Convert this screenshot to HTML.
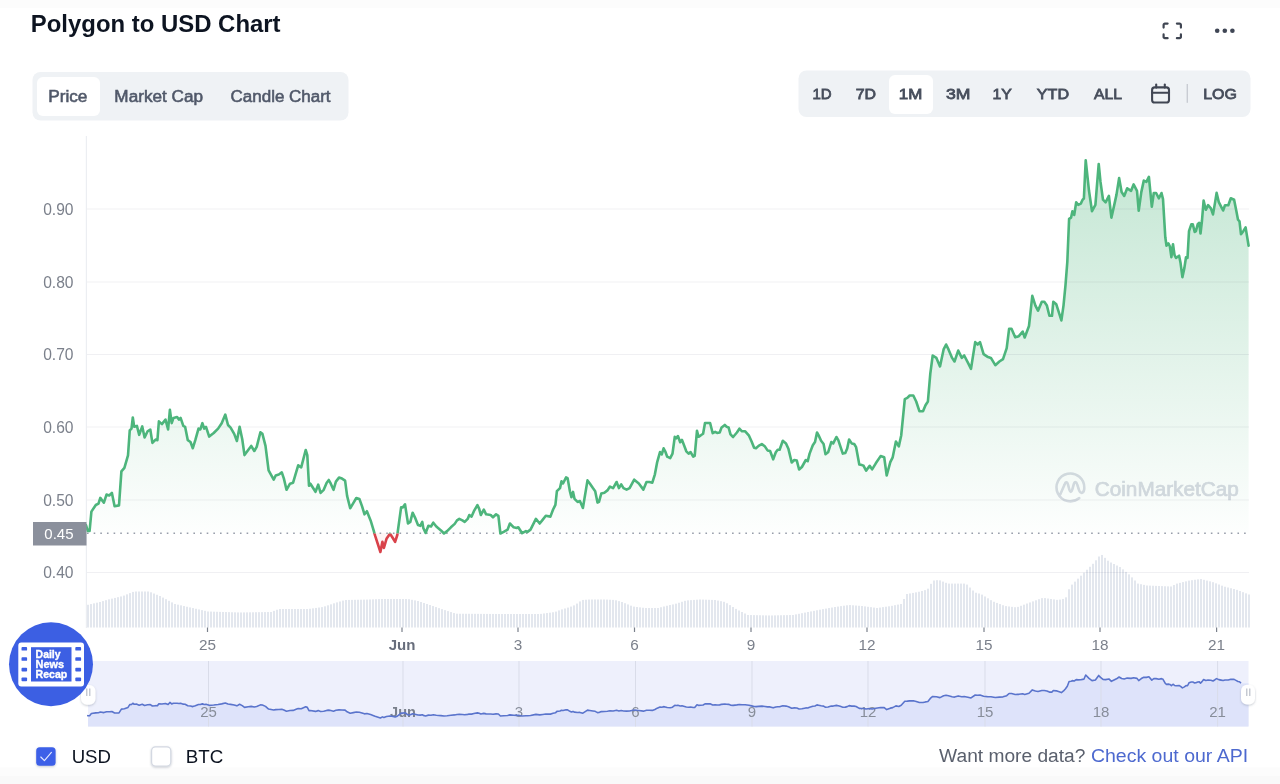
<!DOCTYPE html>
<html><head><meta charset="utf-8"><title>Polygon to USD Chart</title>
<style>
html,body{margin:0;padding:0;background:#fff;}
body{width:1280px;height:784px;overflow:hidden;position:relative;font-family:"Liberation Sans",Arial,sans-serif;}
svg{position:absolute;left:0;top:0;display:block;}
.t{font-family:"Liberation Sans",Arial,sans-serif;}
</style></head>
<body>
<svg width="1280" height="784" viewBox="0 0 1280 784">
<defs>
<linearGradient id="areag" x1="0" y1="160" x2="0" y2="533" gradientUnits="userSpaceOnUse">
<stop offset="0" stop-color="#4db57c" stop-opacity="0.33"/><stop offset="1" stop-color="#4db57c" stop-opacity="0.01"/></linearGradient>
<clipPath id="above"><rect x="0" y="0" width="372" height="536.3"/><rect x="372" y="0" width="27" height="533.6"/><rect x="399" y="0" width="881" height="536.3"/></clipPath><clipPath id="aboveA"><rect x="0" y="0" width="1280" height="533"/></clipPath>
<clipPath id="below"><rect x="0" y="536.3" width="1280" height="100"/><rect x="372" y="533.6" width="27" height="10"/></clipPath><clipPath id="belowA"><rect x="0" y="533" width="1280" height="100"/></clipPath>
<filter id="sh" x="-50%" y="-50%" width="200%" height="200%"><feDropShadow dx="0" dy="1" stdDeviation="1.2" flood-color="#58667e" flood-opacity="0.35"/></filter>
</defs>
<rect x="0" y="0" width="1280" height="8" fill="#fcfcfc"/>
<rect x="0" y="767.5" width="1280" height="8.5" fill="#fcfcfc"/><rect x="0" y="776" width="1280" height="8" fill="#f9f9f9"/>

<!-- title -->
<g class="t"><text x="30.79" y="31.6" font-size="24" font-weight="700" fill="#0d1421" textLength="249.8" lengthAdjust="spacingAndGlyphs">Polygon to USD Chart</text></g>

<!-- fullscreen icon -->
<g fill="none" stroke="#3f4552" stroke-width="2.2" stroke-linecap="round" stroke-linejoin="round">
<path d="M1163.6 27.6 V24.9 A1.3 1.3 0 0 1 1164.9 23.6 H1167.6"/><path d="M1176.9 23.6 H1179.6 A1.3 1.3 0 0 1 1180.9 24.9 V27.6"/>
<path d="M1163.6 34.4 V36.9 A1.3 1.3 0 0 0 1164.9 38.2 H1167.6"/><path d="M1176.9 38.2 H1179.6 A1.3 1.3 0 0 0 1180.9 36.9 V34.4"/>
</g>
<g fill="#3f4655"><circle cx="1217.2" cy="30.7" r="2.3"/><circle cx="1224.8" cy="30.7" r="2.3"/><circle cx="1232.4" cy="30.7" r="2.3"/></g>

<!-- left tabs -->
<rect x="32.5" y="72" width="316" height="48.5" rx="8" fill="#eff2f5"/>
<rect x="37" y="77" width="63" height="39" rx="6" fill="#fff"/>
<g class="t"><text x="48.18" y="101.6" font-size="16" fill="#505869" textLength="39.27" lengthAdjust="spacingAndGlyphs" stroke="#505869" stroke-width="0.55">Price</text><text x="114.39" y="101.6" font-size="16" fill="#505869" textLength="88.62" lengthAdjust="spacingAndGlyphs" stroke="#505869" stroke-width="0.55">Market Cap</text><text x="230.6" y="101.6" font-size="16" fill="#505869" textLength="99.92" lengthAdjust="spacingAndGlyphs" stroke="#505869" stroke-width="0.55">Candle Chart</text></g>

<!-- right range buttons -->
<rect x="798.5" y="70.5" width="452" height="46.5" rx="8" fill="#eff2f5"/>
<rect x="889" y="75" width="44" height="39" rx="6" fill="#fff"/>
<g class="t"><text x="812.47" y="99" font-size="15.4" fill="#474e5c" textLength="19.2" lengthAdjust="spacingAndGlyphs" stroke="#474e5c" stroke-width="0.8">1D</text><text x="855.7" y="99" font-size="15.4" fill="#474e5c" textLength="20.37" lengthAdjust="spacingAndGlyphs" stroke="#474e5c" stroke-width="0.8">7D</text><text x="898.83" y="99" font-size="15.4" fill="#474e5c" textLength="23.49" lengthAdjust="spacingAndGlyphs" stroke="#474e5c" stroke-width="0.8">1M</text><text x="946.04" y="99" font-size="15.4" fill="#474e5c" textLength="24.44" lengthAdjust="spacingAndGlyphs" stroke="#474e5c" stroke-width="0.8">3M</text><text x="992.51" y="99" font-size="15.4" fill="#474e5c" textLength="19.35" lengthAdjust="spacingAndGlyphs" stroke="#474e5c" stroke-width="0.8">1Y</text><text x="1036.84" y="99" font-size="15.4" fill="#474e5c" textLength="32.23" lengthAdjust="spacingAndGlyphs" stroke="#474e5c" stroke-width="0.8">YTD</text><text x="1094.06" y="99" font-size="15.4" fill="#474e5c" textLength="27.98" lengthAdjust="spacingAndGlyphs" stroke="#474e5c" stroke-width="0.8">ALL</text><text x="1203.18" y="99" font-size="15.4" fill="#474e5c" textLength="33.7" lengthAdjust="spacingAndGlyphs" stroke="#474e5c" stroke-width="0.8">LOG</text></g>
<g fill="none" stroke="#404653" stroke-width="2.1" stroke-linecap="round">
<rect x="1152.1" y="87.4" width="16.9" height="15.1" rx="2.6"/>
<path d="M1152.1 92.8 H1169"/><path d="M1156.2 84.5 V87.6"/><path d="M1164.8 84.5 V87.6"/>
</g>
<rect x="1186.6" y="84" width="1.4" height="18.8" fill="#c9ccd3"/>

<!-- chart grid -->
<rect x="85.8" y="136" width="1.2" height="492" fill="#eceef2"/>

<!-- volume bars -->
<g fill="#e3e7ee"><rect x="87" y="604.77" width="2" height="22.73"/><rect x="90" y="604.08" width="2" height="23.42"/><rect x="93" y="603.38" width="2" height="24.12"/><rect x="96" y="602.69" width="2" height="24.81"/><rect x="99" y="602" width="2" height="25.5"/><rect x="102" y="601.1" width="2" height="26.4"/><rect x="105" y="600.2" width="2" height="27.3"/><rect x="108" y="599.36" width="2" height="28.14"/><rect x="111" y="598.64" width="2" height="28.86"/><rect x="114" y="597.92" width="2" height="29.58"/><rect x="117" y="597.2" width="2" height="30.3"/><rect x="120" y="596.48" width="2" height="31.02"/><rect x="123" y="595.59" width="2" height="31.91"/><rect x="126" y="594.36" width="2" height="33.14"/><rect x="129" y="593.14" width="2" height="34.36"/><rect x="132" y="591.91" width="2" height="35.59"/><rect x="135" y="591.5" width="2" height="36"/><rect x="138" y="591.5" width="2" height="36"/><rect x="141" y="591.5" width="2" height="36"/><rect x="144" y="591.5" width="2" height="36"/><rect x="147" y="591.5" width="2" height="36"/><rect x="150" y="592.32" width="2" height="35.18"/><rect x="153" y="593.55" width="2" height="33.95"/><rect x="156" y="594.77" width="2" height="32.73"/><rect x="159" y="596" width="2" height="31.5"/><rect x="162" y="597.6" width="2" height="29.9"/><rect x="165" y="599.2" width="2" height="28.3"/><rect x="168" y="600.8" width="2" height="26.7"/><rect x="171" y="602.4" width="2" height="25.1"/><rect x="174" y="604" width="2" height="23.5"/><rect x="177" y="604.68" width="2" height="22.82"/><rect x="180" y="605.36" width="2" height="22.14"/><rect x="183" y="606.05" width="2" height="21.45"/><rect x="186" y="606.73" width="2" height="20.77"/><rect x="189" y="607.41" width="2" height="20.09"/><rect x="192" y="608.09" width="2" height="19.41"/><rect x="195" y="608.77" width="2" height="18.73"/><rect x="198" y="609.45" width="2" height="18.05"/><rect x="201" y="610.14" width="2" height="17.36"/><rect x="204" y="610.82" width="2" height="16.68"/><rect x="207" y="611.5" width="2" height="16"/><rect x="210" y="611.59" width="2" height="15.91"/><rect x="213" y="611.69" width="2" height="15.81"/><rect x="216" y="611.78" width="2" height="15.72"/><rect x="219" y="611.88" width="2" height="15.62"/><rect x="222" y="611.97" width="2" height="15.53"/><rect x="225" y="612.06" width="2" height="15.44"/><rect x="228" y="612.16" width="2" height="15.34"/><rect x="231" y="612.25" width="2" height="15.25"/><rect x="234" y="612.34" width="2" height="15.16"/><rect x="237" y="612.44" width="2" height="15.06"/><rect x="240" y="612.48" width="2" height="15.02"/><rect x="243" y="612.44" width="2" height="15.06"/><rect x="246" y="612.39" width="2" height="15.11"/><rect x="249" y="612.34" width="2" height="15.16"/><rect x="252" y="612.29" width="2" height="15.21"/><rect x="255" y="612.24" width="2" height="15.26"/><rect x="258" y="612.19" width="2" height="15.31"/><rect x="261" y="612.15" width="2" height="15.35"/><rect x="264" y="612.1" width="2" height="15.4"/><rect x="267" y="612.05" width="2" height="15.45"/><rect x="270" y="612" width="2" height="15.5"/><rect x="273" y="610.88" width="2" height="16.62"/><rect x="276" y="609.75" width="2" height="17.75"/><rect x="279" y="609" width="2" height="18.5"/><rect x="282" y="609" width="2" height="18.5"/><rect x="285" y="609" width="2" height="18.5"/><rect x="288" y="609" width="2" height="18.5"/><rect x="291" y="609" width="2" height="18.5"/><rect x="294" y="609" width="2" height="18.5"/><rect x="297" y="609" width="2" height="18.5"/><rect x="300" y="609" width="2" height="18.5"/><rect x="303" y="609" width="2" height="18.5"/><rect x="306" y="609" width="2" height="18.5"/><rect x="309" y="608.73" width="2" height="18.77"/><rect x="312" y="608.33" width="2" height="19.17"/><rect x="315" y="607.93" width="2" height="19.57"/><rect x="318" y="607.53" width="2" height="19.97"/><rect x="321" y="607.13" width="2" height="20.37"/><rect x="324" y="606.33" width="2" height="21.17"/><rect x="327" y="605.33" width="2" height="22.17"/><rect x="330" y="604.33" width="2" height="23.17"/><rect x="333" y="603.33" width="2" height="24.17"/><rect x="336" y="602.4" width="2" height="25.1"/><rect x="339" y="601.5" width="2" height="26"/><rect x="342" y="600.6" width="2" height="26.9"/><rect x="345" y="599.98" width="2" height="27.52"/><rect x="348" y="599.93" width="2" height="27.57"/><rect x="351" y="599.87" width="2" height="27.63"/><rect x="354" y="599.82" width="2" height="27.68"/><rect x="357" y="599.76" width="2" height="27.74"/><rect x="360" y="599.71" width="2" height="27.79"/><rect x="363" y="599.65" width="2" height="27.85"/><rect x="366" y="599.6" width="2" height="27.9"/><rect x="369" y="599.48" width="2" height="28.02"/><rect x="372" y="599.36" width="2" height="28.14"/><rect x="375" y="599.24" width="2" height="28.26"/><rect x="378" y="599.12" width="2" height="28.38"/><rect x="381" y="599" width="2" height="28.5"/><rect x="384" y="599" width="2" height="28.5"/><rect x="387" y="599" width="2" height="28.5"/><rect x="390" y="599" width="2" height="28.5"/><rect x="393" y="599" width="2" height="28.5"/><rect x="396" y="599" width="2" height="28.5"/><rect x="399" y="599" width="2" height="28.5"/><rect x="402" y="599" width="2" height="28.5"/><rect x="405" y="599" width="2" height="28.5"/><rect x="408" y="599.2" width="2" height="28.3"/><rect x="411" y="599.8" width="2" height="27.7"/><rect x="414" y="600.4" width="2" height="27.1"/><rect x="417" y="601" width="2" height="26.5"/><rect x="420" y="602" width="2" height="25.5"/><rect x="423" y="603" width="2" height="24.5"/><rect x="426" y="604" width="2" height="23.5"/><rect x="429" y="605.03" width="2" height="22.47"/><rect x="432" y="606.07" width="2" height="21.43"/><rect x="435" y="607.1" width="2" height="20.4"/><rect x="438" y="608.14" width="2" height="19.36"/><rect x="441" y="609.16" width="2" height="18.34"/><rect x="444" y="610.13" width="2" height="17.37"/><rect x="447" y="611.11" width="2" height="16.39"/><rect x="450" y="612.08" width="2" height="15.42"/><rect x="453" y="613.05" width="2" height="14.45"/><rect x="456" y="613.71" width="2" height="13.79"/><rect x="459" y="613.73" width="2" height="13.77"/><rect x="462" y="613.75" width="2" height="13.75"/><rect x="465" y="613.77" width="2" height="13.73"/><rect x="468" y="613.79" width="2" height="13.71"/><rect x="471" y="613.81" width="2" height="13.69"/><rect x="474" y="613.83" width="2" height="13.67"/><rect x="477" y="613.85" width="2" height="13.65"/><rect x="480" y="613.87" width="2" height="13.63"/><rect x="483" y="613.89" width="2" height="13.61"/><rect x="486" y="613.91" width="2" height="13.59"/><rect x="489" y="613.93" width="2" height="13.57"/><rect x="492" y="613.95" width="2" height="13.55"/><rect x="495" y="613.97" width="2" height="13.53"/><rect x="498" y="613.99" width="2" height="13.51"/><rect x="501" y="614" width="2" height="13.5"/><rect x="504" y="614" width="2" height="13.5"/><rect x="507" y="614" width="2" height="13.5"/><rect x="510" y="614" width="2" height="13.5"/><rect x="513" y="614" width="2" height="13.5"/><rect x="516" y="614" width="2" height="13.5"/><rect x="519" y="614" width="2" height="13.5"/><rect x="522" y="614" width="2" height="13.5"/><rect x="525" y="614" width="2" height="13.5"/><rect x="528" y="614" width="2" height="13.5"/><rect x="531" y="614" width="2" height="13.5"/><rect x="534" y="614" width="2" height="13.5"/><rect x="537" y="614" width="2" height="13.5"/><rect x="540" y="613.87" width="2" height="13.63"/><rect x="543" y="613.47" width="2" height="14.03"/><rect x="546" y="613.07" width="2" height="14.43"/><rect x="549" y="612.67" width="2" height="14.83"/><rect x="552" y="612.27" width="2" height="15.23"/><rect x="555" y="611.6" width="2" height="15.9"/><rect x="558" y="610.4" width="2" height="17.1"/><rect x="561" y="609.4" width="2" height="18.1"/><rect x="564" y="608.5" width="2" height="19"/><rect x="567" y="607.6" width="2" height="19.9"/><rect x="570" y="606.6" width="2" height="20.9"/><rect x="573" y="605.4" width="2" height="22.1"/><rect x="576" y="603.57" width="2" height="23.93"/><rect x="579" y="601.43" width="2" height="26.07"/><rect x="582" y="599.94" width="2" height="27.56"/><rect x="585" y="599.75" width="2" height="27.75"/><rect x="588" y="599.56" width="2" height="27.94"/><rect x="591" y="599.5" width="2" height="28"/><rect x="594" y="599.5" width="2" height="28"/><rect x="597" y="599.5" width="2" height="28"/><rect x="600" y="599.5" width="2" height="28"/><rect x="603" y="599.5" width="2" height="28"/><rect x="606" y="599.6" width="2" height="27.9"/><rect x="609" y="599.75" width="2" height="27.75"/><rect x="612" y="599.9" width="2" height="27.6"/><rect x="615" y="600.29" width="2" height="27.21"/><rect x="618" y="601.14" width="2" height="26.36"/><rect x="621" y="602" width="2" height="25.5"/><rect x="624" y="603.23" width="2" height="24.27"/><rect x="627" y="604.45" width="2" height="23.05"/><rect x="630" y="605.68" width="2" height="21.82"/><rect x="633" y="606.62" width="2" height="20.88"/><rect x="636" y="607" width="2" height="20.5"/><rect x="639" y="607.38" width="2" height="20.12"/><rect x="642" y="607.75" width="2" height="19.75"/><rect x="645" y="608" width="2" height="19.5"/><rect x="648" y="608" width="2" height="19.5"/><rect x="651" y="608" width="2" height="19.5"/><rect x="654" y="608" width="2" height="19.5"/><rect x="657" y="608" width="2" height="19.5"/><rect x="660" y="607.25" width="2" height="20.25"/><rect x="663" y="606.5" width="2" height="21"/><rect x="666" y="605.75" width="2" height="21.75"/><rect x="669" y="605.07" width="2" height="22.43"/><rect x="672" y="604.43" width="2" height="23.07"/><rect x="675" y="603.68" width="2" height="23.82"/><rect x="678" y="602.73" width="2" height="24.77"/><rect x="681" y="601.77" width="2" height="25.73"/><rect x="684" y="600.82" width="2" height="26.68"/><rect x="687" y="600.36" width="2" height="27.14"/><rect x="690" y="600.14" width="2" height="27.36"/><rect x="693" y="599.93" width="2" height="27.57"/><rect x="696" y="599.71" width="2" height="27.79"/><rect x="699" y="599.5" width="2" height="28"/><rect x="702" y="599.6" width="2" height="27.9"/><rect x="705" y="599.7" width="2" height="27.8"/><rect x="708" y="599.8" width="2" height="27.7"/><rect x="711" y="599.9" width="2" height="27.6"/><rect x="714" y="600" width="2" height="27.5"/><rect x="717" y="600.6" width="2" height="26.9"/><rect x="720" y="601.2" width="2" height="26.3"/><rect x="723" y="601.8" width="2" height="25.7"/><rect x="726" y="603.25" width="2" height="24.25"/><rect x="729" y="605.12" width="2" height="22.38"/><rect x="732" y="607" width="2" height="20.5"/><rect x="735" y="608.88" width="2" height="18.62"/><rect x="738" y="610.5" width="2" height="17"/><rect x="741" y="612" width="2" height="15.5"/><rect x="744" y="613.5" width="2" height="14"/><rect x="747" y="615" width="2" height="12.5"/><rect x="750" y="615.07" width="2" height="12.43"/><rect x="753" y="615.14" width="2" height="12.36"/><rect x="756" y="615.2" width="2" height="12.3"/><rect x="759" y="615.27" width="2" height="12.23"/><rect x="762" y="615.34" width="2" height="12.16"/><rect x="765" y="615.41" width="2" height="12.09"/><rect x="768" y="615.48" width="2" height="12.02"/><rect x="771" y="615.46" width="2" height="12.04"/><rect x="774" y="615.39" width="2" height="12.11"/><rect x="777" y="615.33" width="2" height="12.17"/><rect x="780" y="615.26" width="2" height="12.24"/><rect x="783" y="615.2" width="2" height="12.3"/><rect x="786" y="615.13" width="2" height="12.37"/><rect x="789" y="615.07" width="2" height="12.43"/><rect x="792" y="615" width="2" height="12.5"/><rect x="795" y="614.4" width="2" height="13.1"/><rect x="798" y="613.8" width="2" height="13.7"/><rect x="801" y="613.2" width="2" height="14.3"/><rect x="804" y="612.6" width="2" height="14.9"/><rect x="807" y="612" width="2" height="15.5"/><rect x="810" y="611.42" width="2" height="16.08"/><rect x="813" y="610.85" width="2" height="16.65"/><rect x="816" y="610.27" width="2" height="17.23"/><rect x="819" y="609.69" width="2" height="17.81"/><rect x="822" y="609.14" width="2" height="18.36"/><rect x="825" y="608.61" width="2" height="18.89"/><rect x="828" y="608.07" width="2" height="19.43"/><rect x="831" y="607.54" width="2" height="19.96"/><rect x="834" y="607" width="2" height="20.5"/><rect x="837" y="606.57" width="2" height="20.93"/><rect x="840" y="606.14" width="2" height="21.36"/><rect x="843" y="605.71" width="2" height="21.79"/><rect x="846" y="605.29" width="2" height="22.21"/><rect x="849" y="605.08" width="2" height="22.42"/><rect x="852" y="605.31" width="2" height="22.19"/><rect x="855" y="605.54" width="2" height="21.96"/><rect x="858" y="605.77" width="2" height="21.73"/><rect x="861" y="606" width="2" height="21.5"/><rect x="864" y="606.4" width="2" height="21.1"/><rect x="867" y="606.8" width="2" height="20.7"/><rect x="870" y="607.2" width="2" height="20.3"/><rect x="873" y="607.6" width="2" height="19.9"/><rect x="876" y="608" width="2" height="19.5"/><rect x="879" y="607.57" width="2" height="19.93"/><rect x="882" y="607.14" width="2" height="20.36"/><rect x="885" y="606.71" width="2" height="20.79"/><rect x="888" y="606.29" width="2" height="21.21"/><rect x="891" y="605.8" width="2" height="21.7"/><rect x="894" y="605.2" width="2" height="22.3"/><rect x="897" y="604.6" width="2" height="22.9"/><rect x="900" y="604" width="2" height="23.5"/><rect x="903" y="599" width="2" height="28.5"/><rect x="906" y="594" width="2" height="33.5"/><rect x="909" y="593.45" width="2" height="34.05"/><rect x="912" y="592.91" width="2" height="34.59"/><rect x="915" y="592.36" width="2" height="35.14"/><rect x="918" y="591.74" width="2" height="35.76"/><rect x="921" y="590.95" width="2" height="36.55"/><rect x="924" y="590.16" width="2" height="37.34"/><rect x="927" y="588.69" width="2" height="38.81"/><rect x="930" y="583.84" width="2" height="43.66"/><rect x="933" y="580.5" width="2" height="47"/><rect x="936" y="580.2" width="2" height="47.3"/><rect x="939" y="580.4" width="2" height="47.1"/><rect x="942" y="581.6" width="2" height="45.9"/><rect x="945" y="582.8" width="2" height="44.7"/><rect x="948" y="583.6" width="2" height="43.9"/><rect x="951" y="583.6" width="2" height="43.9"/><rect x="954" y="583.6" width="2" height="43.9"/><rect x="957" y="583.6" width="2" height="43.9"/><rect x="960" y="583.6" width="2" height="43.9"/><rect x="963" y="583.6" width="2" height="43.9"/><rect x="966" y="584.59" width="2" height="42.91"/><rect x="969" y="587.56" width="2" height="39.94"/><rect x="972" y="590.52" width="2" height="36.98"/><rect x="975" y="592.75" width="2" height="34.75"/><rect x="978" y="593.5" width="2" height="34"/><rect x="981" y="594.62" width="2" height="32.88"/><rect x="984" y="596.47" width="2" height="31.03"/><rect x="987" y="598.32" width="2" height="29.18"/><rect x="990" y="600.17" width="2" height="27.33"/><rect x="993" y="601.78" width="2" height="25.72"/><rect x="996" y="602.93" width="2" height="24.57"/><rect x="999" y="604.08" width="2" height="23.42"/><rect x="1002" y="605.23" width="2" height="22.27"/><rect x="1005" y="606.12" width="2" height="21.38"/><rect x="1008" y="606.48" width="2" height="21.02"/><rect x="1011" y="606.84" width="2" height="20.66"/><rect x="1014" y="607.21" width="2" height="20.29"/><rect x="1017" y="606.88" width="2" height="20.62"/><rect x="1020" y="605.77" width="2" height="21.73"/><rect x="1023" y="604.66" width="2" height="22.84"/><rect x="1026" y="603.55" width="2" height="23.95"/><rect x="1029" y="602.46" width="2" height="25.04"/><rect x="1032" y="601.39" width="2" height="26.11"/><rect x="1035" y="600.31" width="2" height="27.19"/><rect x="1038" y="599.23" width="2" height="28.27"/><rect x="1041" y="598.16" width="2" height="29.34"/><rect x="1044" y="598.09" width="2" height="29.41"/><rect x="1047" y="598.53" width="2" height="28.97"/><rect x="1050" y="598.97" width="2" height="28.53"/><rect x="1053" y="599.41" width="2" height="28.09"/><rect x="1056" y="599.85" width="2" height="27.65"/><rect x="1059" y="599.58" width="2" height="27.92"/><rect x="1062" y="598.95" width="2" height="28.55"/><rect x="1065" y="597.33" width="2" height="30.17"/><rect x="1068" y="589.28" width="2" height="38.22"/><rect x="1071" y="584.62" width="2" height="42.88"/><rect x="1074" y="581.64" width="2" height="45.86"/><rect x="1077" y="578.67" width="2" height="48.83"/><rect x="1080" y="575.69" width="2" height="51.81"/><rect x="1083" y="572.72" width="2" height="54.78"/><rect x="1086" y="569.74" width="2" height="57.76"/><rect x="1089" y="566.77" width="2" height="60.73"/><rect x="1092" y="563.79" width="2" height="63.71"/><rect x="1095" y="560.29" width="2" height="67.21"/><rect x="1098" y="556.51" width="2" height="70.99"/><rect x="1101" y="554.96" width="2" height="72.54"/><rect x="1104" y="557.84" width="2" height="69.66"/><rect x="1107" y="560.72" width="2" height="66.78"/><rect x="1110" y="562.51" width="2" height="64.99"/><rect x="1113" y="564.02" width="2" height="63.48"/><rect x="1116" y="565.54" width="2" height="61.96"/><rect x="1119" y="567.05" width="2" height="60.45"/><rect x="1122" y="569.38" width="2" height="58.12"/><rect x="1125" y="571.87" width="2" height="55.63"/><rect x="1128" y="574.37" width="2" height="53.13"/><rect x="1131" y="577.39" width="2" height="50.11"/><rect x="1134" y="580.5" width="2" height="47"/><rect x="1137" y="583.6" width="2" height="43.9"/><rect x="1140" y="584.23" width="2" height="43.27"/><rect x="1143" y="584.87" width="2" height="42.63"/><rect x="1146" y="585.5" width="2" height="42"/><rect x="1149" y="585.62" width="2" height="41.88"/><rect x="1152" y="585.75" width="2" height="41.75"/><rect x="1155" y="585.88" width="2" height="41.62"/><rect x="1158" y="586" width="2" height="41.5"/><rect x="1161" y="586.12" width="2" height="41.38"/><rect x="1164" y="586.25" width="2" height="41.25"/><rect x="1167" y="586.38" width="2" height="41.12"/><rect x="1170" y="586.5" width="2" height="41"/><rect x="1173" y="585.05" width="2" height="42.45"/><rect x="1176" y="583.6" width="2" height="43.9"/><rect x="1179" y="582.85" width="2" height="44.65"/><rect x="1182" y="582.1" width="2" height="45.4"/><rect x="1185" y="581.35" width="2" height="46.15"/><rect x="1188" y="580.6" width="2" height="46.9"/><rect x="1191" y="580.19" width="2" height="47.31"/><rect x="1194" y="579.78" width="2" height="47.72"/><rect x="1197" y="579.37" width="2" height="48.13"/><rect x="1200" y="579.08" width="2" height="48.42"/><rect x="1203" y="579.84" width="2" height="47.66"/><rect x="1206" y="580.6" width="2" height="46.9"/><rect x="1209" y="581.36" width="2" height="46.14"/><rect x="1212" y="582.19" width="2" height="45.31"/><rect x="1215" y="583.35" width="2" height="44.15"/><rect x="1218" y="584.51" width="2" height="42.99"/><rect x="1221" y="585.67" width="2" height="41.83"/><rect x="1224" y="586.75" width="2" height="40.75"/><rect x="1227" y="587.5" width="2" height="40"/><rect x="1230" y="588.25" width="2" height="39.25"/><rect x="1233" y="589" width="2" height="38.5"/><rect x="1236" y="589.88" width="2" height="37.62"/><rect x="1239" y="591.04" width="2" height="36.46"/><rect x="1242" y="592.19" width="2" height="35.31"/><rect x="1245" y="593.35" width="2" height="34.15"/><rect x="1248" y="594.5" width="2" height="33"/></g>

<!-- watermark -->
<g opacity="1">
<path d="M1079.3 498.1 A13.9 13.9 0 1 1 1084.3 487.9 C1084.3 493.5 1080.3 494.5 1079 490 L1077.1 484.2 C1076.2 481.2 1074.6 481.2 1073.8 484.2 L1072.2 489.8 C1071.5 492.6 1070.1 492.6 1069.4 489.8 L1068 484.6 C1067.2 481.4 1065.5 481.4 1064.6 484.6 L1060.2 494.6" fill="none" stroke="#d8dbe3" stroke-width="2.6" stroke-linecap="round" stroke-linejoin="round"/>
<g class="t"><text x="1094.76" y="495.5" font-size="20" fill="#d6d9e1" textLength="144.07" lengthAdjust="spacingAndGlyphs" stroke="#d6d9e1" stroke-width="0.7">CoinMarketCap</text></g>
</g>

<!-- area + line -->
<path d="M86 525 L87.8 531 L89.6 531 L91.4 511.6 L95.8 505 L98.5 503.6 L100.3 497.9 L103.9 502.7 L106.5 494.6 L109.2 495.5 L111.9 492.9 L114.6 506.25 L119 505.4 L121.4 471.4 L124.4 467.9 L128 455.4 L129.75 430.4 L131.5 428.6 L132.8 417.5 L134.2 426.8 L136.9 425.9 L139.2 434.8 L142.25 426.4 L144.6 437.5 L147.6 431.25 L150.3 429.5 L152.4 442.9 L155.6 439.6 L157.4 440.2 L158.9 421.4 L161.9 424.1 L165.5 419.6 L168.1 429.5 L169.9 409.8 L171.7 423.2 L173.5 417.9 L177.1 417 L178.9 419.6 L180.6 417.9 L183.3 425.9 L185.1 426.8 L187.8 440.2 L190.5 442 L192.8 448.2 L195.3 440.2 L198.5 428.6 L200.3 429.5 L202.4 423.2 L204.2 428.6 L206 426.8 L209.2 436.6 L213.7 433 L218.1 428.6 L221.7 423.2 L225.3 414.6 L228 425 L230.6 427.7 L234.2 433.9 L236.9 441 L239.6 426.8 L242.25 439.3 L244.5 455.1 L248.2 450 L251.2 445.9 L254.3 451 L256.7 446.9 L260.4 432.2 L262.4 433.7 L265.5 445.9 L268.6 470.4 L273.7 479.6 L275.7 475.5 L278.8 474.5 L281.8 472.4 L283.9 478.6 L286.5 489.8 L290 483.7 L293.1 482.7 L296.7 470.4 L298.2 465.3 L301.2 467.3 L305.7 450 L307.3 455.1 L309 485.7 L310.4 483.7 L315.5 491.8 L318.2 484.7 L320.6 492.9 L323.7 489.8 L326.7 482.7 L328.8 480 L330.8 483.7 L333.5 489.8 L335.9 481.6 L339 477.6 L342 478.6 L345.1 480.6 L347.1 495.9 L350.2 508.2 L353.3 503.1 L356.3 498 L359.4 499 L362 506.1 L364.5 514.3 L366.9 511.2 L370.6 520.4 L373.7 530.6 L375.1 535.7 L380.4 552 L382.4 541.8 L383.9 548 L386.5 538.8 L390 533.7 L392 536.7 L395.1 541.8 L397.3 535 L401.1 507.4 L402.7 507.4 L405 504.3 L408 523.5 L410.3 521.9 L412.6 512.7 L414.9 517.3 L418 525 L420.3 525.8 L422.3 521.9 L423.3 528 L425.6 533 L428.4 525.8 L431 526.5 L433.3 522.7 L436.3 526.5 L441 530.4 L444 533.5 L447.1 531.1 L450.9 527.3 L454.7 523.9 L457 520.4 L459.3 518.9 L462.4 520.4 L464.7 521.9 L467.7 518.9 L469.3 515 L471.6 516.6 L473.9 511.2 L477.4 505.1 L479.2 508.9 L480.8 515 L483.8 509.7 L486.1 514.3 L490.7 515 L493 517.3 L496.1 514.3 L498.4 515.8 L500.4 533.5 L503.7 531.9 L507.6 529.6 L509.9 523.5 L513.7 527.3 L516.7 528 L518.3 527.3 L522.1 533.2 L525.9 531.1 L527.5 531.9 L530.5 529.6 L535.9 518.9 L539.7 523.5 L542.8 519.6 L545.8 515.8 L550.4 516.6 L553.1 509.5 L555.4 504.9 L556.9 491.2 L560 488.1 L561.5 481.2 L563 483.5 L566.1 477.4 L567.6 478.1 L569.9 491.2 L571.4 497.3 L573 491.9 L574.5 498.8 L577.6 501.9 L579.9 501.1 L582.9 508 L587.5 480.4 L589.8 483.5 L592.9 488.1 L595.2 491.2 L597.5 502.6 L599 501.9 L601.3 493.5 L604.4 492.7 L607.4 490.4 L610 486.6 L613.1 488.1 L616.6 482 L618.9 488.1 L621.2 484.3 L623.5 488.1 L626.6 489.6 L629.6 488.1 L634.2 479.7 L638.8 483.5 L643.4 489.6 L646.5 482 L649.5 482 L652.3 482.7 L654.9 474.3 L657.2 462.1 L660 452.1 L661.8 454.4 L663.6 448.3 L665.2 451.3 L667.2 456.7 L670.2 458.2 L672.5 453.6 L674.8 436.8 L676.3 438.3 L677.9 436 L680.2 442.2 L682 439.9 L686.3 451.3 L688.6 453.6 L690.6 452.1 L693.2 456.7 L694.7 455.9 L697 430.7 L698.5 436.8 L700.8 435.3 L703.1 433.7 L705 423 L710.1 423 L712.7 433.2 L715.2 431.9 L717.1 432.9 L719.7 432.5 L721.6 427.4 L724.8 424.9 L726.7 426.8 L728.6 427.4 L730.5 434.4 L733.1 437 L736.9 432.5 L739.4 428.7 L742 431.3 L745.2 431.3 L749 435.7 L751.6 441.5 L754.1 447.8 L756 448.2 L758.6 445.9 L761.8 444 L765 446.6 L767.5 450.4 L770.1 451 L773.2 459.3 L775.8 452.3 L777.7 449.7 L779.6 449.7 L782.8 440.8 L786 443.4 L788.5 449.1 L791.7 462.5 L794.3 460 L796.8 460.6 L799.1 469.5 L801.9 467 L805.8 460 L807.7 461.2 L809.6 453.6 L812.8 445.3 L815 442.1 L817 432.5 L818.5 435.1 L821.1 440.8 L823.6 444 L825.5 454.2 L828.1 452.3 L831.3 442.1 L833.2 443.4 L836.4 437 L838.3 440.2 L840.2 445.9 L842.8 453.6 L845.3 452.9 L847.2 448.5 L849.1 439.5 L851.7 443.4 L854.2 444 L856.1 447.2 L859.3 464.4 L861.9 465.1 L863.6 465.8 L866.1 470.6 L869.7 465.8 L872.1 469.4 L875.8 463.3 L880.6 456.1 L884.2 457.3 L886.7 475.5 L890.3 462.1 L892.7 457.3 L895.9 441.5 L898.8 446.4 L901.2 435.5 L904.8 399.1 L907.3 397.9 L909.7 395.5 L913.3 395.5 L916.2 401.5 L919.4 411.2 L923 411.2 L925.5 405.2 L927.9 401.5 L930.3 373.6 L932.7 355.5 L936.4 357.9 L940 366.4 L943.6 349.4 L946.1 344.5 L948.5 349.4 L952.1 357.9 L954.5 361.5 L958.2 350.6 L961.8 357.9 L964.2 355.5 L967.9 362.7 L971 368.8 L975.2 342.1 L977.6 344.5 L980 342.1 L983.6 354.2 L987.3 356.7 L990.9 357.9 L995.3 365.2 L999.4 361.5 L1003 359.1 L1006.7 348.2 L1009.1 328.8 L1011.5 328.8 L1015.2 337.3 L1018.8 336.2 L1022.7 331.6 L1024.7 337.5 L1029 326 L1032.3 295.9 L1035.4 305.6 L1038 310.7 L1041.8 301.8 L1044.3 301.8 L1046.9 305.6 L1049.4 315.8 L1052 315.8 L1053.3 301.8 L1056.3 304.3 L1061.4 320.4 L1063.5 305.6 L1065.5 285.2 L1067.3 262.2 L1069.1 218.9 L1071.1 217.6 L1072.4 211.2 L1074.2 215 L1076.2 202.3 L1078.3 204.8 L1080.8 203.6 L1082.6 199.7 L1083.9 198.5 L1085.7 160.2 L1089 190.8 L1092 211.2 L1095.4 204.8 L1098.7 164 L1100.5 181.9 L1103 199.7 L1105.6 202.3 L1108.9 195.9 L1111.4 217.6 L1114 206.1 L1116.5 194.6 L1119.1 178.1 L1121.6 192.1 L1124.2 195.9 L1127.2 188.3 L1131.1 190.8 L1133.6 184.4 L1137 190.8 L1138.7 210.7 L1141.3 192.1 L1143.8 180.6 L1146.4 181.9 L1148.9 176.8 L1151.8 206.7 L1153.8 193 L1156.1 193 L1158.9 198.3 L1161.5 193 L1163 199.1 L1165.3 237.3 L1166.5 245.7 L1168.4 243.4 L1169.9 246.5 L1171.4 257.2 L1173 244.2 L1174.5 254.9 L1176 258 L1179.1 255.7 L1180.6 263.3 L1182.4 277.1 L1184.4 267.9 L1186 257.2 L1187.5 258 L1189 231.2 L1191.3 224.3 L1192.8 224.3 L1194.7 232 L1195.9 231.2 L1197.7 224.3 L1199.3 222.8 L1200.5 233.5 L1202 220.5 L1203.6 200.6 L1205.8 209.8 L1208.1 205.2 L1210.9 208.3 L1213 214.4 L1215 202.9 L1216.6 192.9 L1218.8 202.1 L1221.1 206.7 L1223.1 210.5 L1225 205.2 L1228.3 205.2 L1230.8 198.3 L1234.1 199.8 L1236.4 211.3 L1238 219.7 L1239.5 221.3 L1241 234.3 L1243.3 231.2 L1245.6 227.4 L1248.6 245.7 L1248.6 533 L86 533 Z" fill="url(#areag)" clip-path="url(#aboveA)"/>
<path d="M86 525 L87.8 531 L89.6 531 L91.4 511.6 L95.8 505 L98.5 503.6 L100.3 497.9 L103.9 502.7 L106.5 494.6 L109.2 495.5 L111.9 492.9 L114.6 506.25 L119 505.4 L121.4 471.4 L124.4 467.9 L128 455.4 L129.75 430.4 L131.5 428.6 L132.8 417.5 L134.2 426.8 L136.9 425.9 L139.2 434.8 L142.25 426.4 L144.6 437.5 L147.6 431.25 L150.3 429.5 L152.4 442.9 L155.6 439.6 L157.4 440.2 L158.9 421.4 L161.9 424.1 L165.5 419.6 L168.1 429.5 L169.9 409.8 L171.7 423.2 L173.5 417.9 L177.1 417 L178.9 419.6 L180.6 417.9 L183.3 425.9 L185.1 426.8 L187.8 440.2 L190.5 442 L192.8 448.2 L195.3 440.2 L198.5 428.6 L200.3 429.5 L202.4 423.2 L204.2 428.6 L206 426.8 L209.2 436.6 L213.7 433 L218.1 428.6 L221.7 423.2 L225.3 414.6 L228 425 L230.6 427.7 L234.2 433.9 L236.9 441 L239.6 426.8 L242.25 439.3 L244.5 455.1 L248.2 450 L251.2 445.9 L254.3 451 L256.7 446.9 L260.4 432.2 L262.4 433.7 L265.5 445.9 L268.6 470.4 L273.7 479.6 L275.7 475.5 L278.8 474.5 L281.8 472.4 L283.9 478.6 L286.5 489.8 L290 483.7 L293.1 482.7 L296.7 470.4 L298.2 465.3 L301.2 467.3 L305.7 450 L307.3 455.1 L309 485.7 L310.4 483.7 L315.5 491.8 L318.2 484.7 L320.6 492.9 L323.7 489.8 L326.7 482.7 L328.8 480 L330.8 483.7 L333.5 489.8 L335.9 481.6 L339 477.6 L342 478.6 L345.1 480.6 L347.1 495.9 L350.2 508.2 L353.3 503.1 L356.3 498 L359.4 499 L362 506.1 L364.5 514.3 L366.9 511.2 L370.6 520.4 L373.7 530.6 L375.1 535.7 L380.4 552 L382.4 541.8 L383.9 548 L386.5 538.8 L390 533.7 L392 536.7 L395.1 541.8 L397.3 535 L401.1 507.4 L402.7 507.4 L405 504.3 L408 523.5 L410.3 521.9 L412.6 512.7 L414.9 517.3 L418 525 L420.3 525.8 L422.3 521.9 L423.3 528 L425.6 533 L428.4 525.8 L431 526.5 L433.3 522.7 L436.3 526.5 L441 530.4 L444 533.5 L447.1 531.1 L450.9 527.3 L454.7 523.9 L457 520.4 L459.3 518.9 L462.4 520.4 L464.7 521.9 L467.7 518.9 L469.3 515 L471.6 516.6 L473.9 511.2 L477.4 505.1 L479.2 508.9 L480.8 515 L483.8 509.7 L486.1 514.3 L490.7 515 L493 517.3 L496.1 514.3 L498.4 515.8 L500.4 533.5 L503.7 531.9 L507.6 529.6 L509.9 523.5 L513.7 527.3 L516.7 528 L518.3 527.3 L522.1 533.2 L525.9 531.1 L527.5 531.9 L530.5 529.6 L535.9 518.9 L539.7 523.5 L542.8 519.6 L545.8 515.8 L550.4 516.6 L553.1 509.5 L555.4 504.9 L556.9 491.2 L560 488.1 L561.5 481.2 L563 483.5 L566.1 477.4 L567.6 478.1 L569.9 491.2 L571.4 497.3 L573 491.9 L574.5 498.8 L577.6 501.9 L579.9 501.1 L582.9 508 L587.5 480.4 L589.8 483.5 L592.9 488.1 L595.2 491.2 L597.5 502.6 L599 501.9 L601.3 493.5 L604.4 492.7 L607.4 490.4 L610 486.6 L613.1 488.1 L616.6 482 L618.9 488.1 L621.2 484.3 L623.5 488.1 L626.6 489.6 L629.6 488.1 L634.2 479.7 L638.8 483.5 L643.4 489.6 L646.5 482 L649.5 482 L652.3 482.7 L654.9 474.3 L657.2 462.1 L660 452.1 L661.8 454.4 L663.6 448.3 L665.2 451.3 L667.2 456.7 L670.2 458.2 L672.5 453.6 L674.8 436.8 L676.3 438.3 L677.9 436 L680.2 442.2 L682 439.9 L686.3 451.3 L688.6 453.6 L690.6 452.1 L693.2 456.7 L694.7 455.9 L697 430.7 L698.5 436.8 L700.8 435.3 L703.1 433.7 L705 423 L710.1 423 L712.7 433.2 L715.2 431.9 L717.1 432.9 L719.7 432.5 L721.6 427.4 L724.8 424.9 L726.7 426.8 L728.6 427.4 L730.5 434.4 L733.1 437 L736.9 432.5 L739.4 428.7 L742 431.3 L745.2 431.3 L749 435.7 L751.6 441.5 L754.1 447.8 L756 448.2 L758.6 445.9 L761.8 444 L765 446.6 L767.5 450.4 L770.1 451 L773.2 459.3 L775.8 452.3 L777.7 449.7 L779.6 449.7 L782.8 440.8 L786 443.4 L788.5 449.1 L791.7 462.5 L794.3 460 L796.8 460.6 L799.1 469.5 L801.9 467 L805.8 460 L807.7 461.2 L809.6 453.6 L812.8 445.3 L815 442.1 L817 432.5 L818.5 435.1 L821.1 440.8 L823.6 444 L825.5 454.2 L828.1 452.3 L831.3 442.1 L833.2 443.4 L836.4 437 L838.3 440.2 L840.2 445.9 L842.8 453.6 L845.3 452.9 L847.2 448.5 L849.1 439.5 L851.7 443.4 L854.2 444 L856.1 447.2 L859.3 464.4 L861.9 465.1 L863.6 465.8 L866.1 470.6 L869.7 465.8 L872.1 469.4 L875.8 463.3 L880.6 456.1 L884.2 457.3 L886.7 475.5 L890.3 462.1 L892.7 457.3 L895.9 441.5 L898.8 446.4 L901.2 435.5 L904.8 399.1 L907.3 397.9 L909.7 395.5 L913.3 395.5 L916.2 401.5 L919.4 411.2 L923 411.2 L925.5 405.2 L927.9 401.5 L930.3 373.6 L932.7 355.5 L936.4 357.9 L940 366.4 L943.6 349.4 L946.1 344.5 L948.5 349.4 L952.1 357.9 L954.5 361.5 L958.2 350.6 L961.8 357.9 L964.2 355.5 L967.9 362.7 L971 368.8 L975.2 342.1 L977.6 344.5 L980 342.1 L983.6 354.2 L987.3 356.7 L990.9 357.9 L995.3 365.2 L999.4 361.5 L1003 359.1 L1006.7 348.2 L1009.1 328.8 L1011.5 328.8 L1015.2 337.3 L1018.8 336.2 L1022.7 331.6 L1024.7 337.5 L1029 326 L1032.3 295.9 L1035.4 305.6 L1038 310.7 L1041.8 301.8 L1044.3 301.8 L1046.9 305.6 L1049.4 315.8 L1052 315.8 L1053.3 301.8 L1056.3 304.3 L1061.4 320.4 L1063.5 305.6 L1065.5 285.2 L1067.3 262.2 L1069.1 218.9 L1071.1 217.6 L1072.4 211.2 L1074.2 215 L1076.2 202.3 L1078.3 204.8 L1080.8 203.6 L1082.6 199.7 L1083.9 198.5 L1085.7 160.2 L1089 190.8 L1092 211.2 L1095.4 204.8 L1098.7 164 L1100.5 181.9 L1103 199.7 L1105.6 202.3 L1108.9 195.9 L1111.4 217.6 L1114 206.1 L1116.5 194.6 L1119.1 178.1 L1121.6 192.1 L1124.2 195.9 L1127.2 188.3 L1131.1 190.8 L1133.6 184.4 L1137 190.8 L1138.7 210.7 L1141.3 192.1 L1143.8 180.6 L1146.4 181.9 L1148.9 176.8 L1151.8 206.7 L1153.8 193 L1156.1 193 L1158.9 198.3 L1161.5 193 L1163 199.1 L1165.3 237.3 L1166.5 245.7 L1168.4 243.4 L1169.9 246.5 L1171.4 257.2 L1173 244.2 L1174.5 254.9 L1176 258 L1179.1 255.7 L1180.6 263.3 L1182.4 277.1 L1184.4 267.9 L1186 257.2 L1187.5 258 L1189 231.2 L1191.3 224.3 L1192.8 224.3 L1194.7 232 L1195.9 231.2 L1197.7 224.3 L1199.3 222.8 L1200.5 233.5 L1202 220.5 L1203.6 200.6 L1205.8 209.8 L1208.1 205.2 L1210.9 208.3 L1213 214.4 L1215 202.9 L1216.6 192.9 L1218.8 202.1 L1221.1 206.7 L1223.1 210.5 L1225 205.2 L1228.3 205.2 L1230.8 198.3 L1234.1 199.8 L1236.4 211.3 L1238 219.7 L1239.5 221.3 L1241 234.3 L1243.3 231.2 L1245.6 227.4 L1248.6 245.7 L1248.6 533 L86 533 Z" fill="#ea3943" fill-opacity="0.05" clip-path="url(#belowA)"/>
<g stroke="#1a2550" stroke-opacity="0.065" stroke-width="1.2"><line x1="87" x2="1249" y1="209" y2="209"/><line x1="87" x2="1249" y1="282" y2="282"/><line x1="87" x2="1249" y1="354.5" y2="354.5"/><line x1="87" x2="1249" y1="427" y2="427"/><line x1="87" x2="1249" y1="500" y2="500"/><line x1="87" x2="1249" y1="572.5" y2="572.5"/></g>
<line x1="87" x2="1249" y1="533.3" y2="533.3" stroke="#979daa" stroke-width="1.5" stroke-dasharray="1.6 5.05" />
<path d="M86 525 L87.8 531 L89.6 531 L91.4 511.6 L95.8 505 L98.5 503.6 L100.3 497.9 L103.9 502.7 L106.5 494.6 L109.2 495.5 L111.9 492.9 L114.6 506.25 L119 505.4 L121.4 471.4 L124.4 467.9 L128 455.4 L129.75 430.4 L131.5 428.6 L132.8 417.5 L134.2 426.8 L136.9 425.9 L139.2 434.8 L142.25 426.4 L144.6 437.5 L147.6 431.25 L150.3 429.5 L152.4 442.9 L155.6 439.6 L157.4 440.2 L158.9 421.4 L161.9 424.1 L165.5 419.6 L168.1 429.5 L169.9 409.8 L171.7 423.2 L173.5 417.9 L177.1 417 L178.9 419.6 L180.6 417.9 L183.3 425.9 L185.1 426.8 L187.8 440.2 L190.5 442 L192.8 448.2 L195.3 440.2 L198.5 428.6 L200.3 429.5 L202.4 423.2 L204.2 428.6 L206 426.8 L209.2 436.6 L213.7 433 L218.1 428.6 L221.7 423.2 L225.3 414.6 L228 425 L230.6 427.7 L234.2 433.9 L236.9 441 L239.6 426.8 L242.25 439.3 L244.5 455.1 L248.2 450 L251.2 445.9 L254.3 451 L256.7 446.9 L260.4 432.2 L262.4 433.7 L265.5 445.9 L268.6 470.4 L273.7 479.6 L275.7 475.5 L278.8 474.5 L281.8 472.4 L283.9 478.6 L286.5 489.8 L290 483.7 L293.1 482.7 L296.7 470.4 L298.2 465.3 L301.2 467.3 L305.7 450 L307.3 455.1 L309 485.7 L310.4 483.7 L315.5 491.8 L318.2 484.7 L320.6 492.9 L323.7 489.8 L326.7 482.7 L328.8 480 L330.8 483.7 L333.5 489.8 L335.9 481.6 L339 477.6 L342 478.6 L345.1 480.6 L347.1 495.9 L350.2 508.2 L353.3 503.1 L356.3 498 L359.4 499 L362 506.1 L364.5 514.3 L366.9 511.2 L370.6 520.4 L373.7 530.6 L375.1 535.7 L380.4 552 L382.4 541.8 L383.9 548 L386.5 538.8 L390 533.7 L392 536.7 L395.1 541.8 L397.3 535 L401.1 507.4 L402.7 507.4 L405 504.3 L408 523.5 L410.3 521.9 L412.6 512.7 L414.9 517.3 L418 525 L420.3 525.8 L422.3 521.9 L423.3 528 L425.6 533 L428.4 525.8 L431 526.5 L433.3 522.7 L436.3 526.5 L441 530.4 L444 533.5 L447.1 531.1 L450.9 527.3 L454.7 523.9 L457 520.4 L459.3 518.9 L462.4 520.4 L464.7 521.9 L467.7 518.9 L469.3 515 L471.6 516.6 L473.9 511.2 L477.4 505.1 L479.2 508.9 L480.8 515 L483.8 509.7 L486.1 514.3 L490.7 515 L493 517.3 L496.1 514.3 L498.4 515.8 L500.4 533.5 L503.7 531.9 L507.6 529.6 L509.9 523.5 L513.7 527.3 L516.7 528 L518.3 527.3 L522.1 533.2 L525.9 531.1 L527.5 531.9 L530.5 529.6 L535.9 518.9 L539.7 523.5 L542.8 519.6 L545.8 515.8 L550.4 516.6 L553.1 509.5 L555.4 504.9 L556.9 491.2 L560 488.1 L561.5 481.2 L563 483.5 L566.1 477.4 L567.6 478.1 L569.9 491.2 L571.4 497.3 L573 491.9 L574.5 498.8 L577.6 501.9 L579.9 501.1 L582.9 508 L587.5 480.4 L589.8 483.5 L592.9 488.1 L595.2 491.2 L597.5 502.6 L599 501.9 L601.3 493.5 L604.4 492.7 L607.4 490.4 L610 486.6 L613.1 488.1 L616.6 482 L618.9 488.1 L621.2 484.3 L623.5 488.1 L626.6 489.6 L629.6 488.1 L634.2 479.7 L638.8 483.5 L643.4 489.6 L646.5 482 L649.5 482 L652.3 482.7 L654.9 474.3 L657.2 462.1 L660 452.1 L661.8 454.4 L663.6 448.3 L665.2 451.3 L667.2 456.7 L670.2 458.2 L672.5 453.6 L674.8 436.8 L676.3 438.3 L677.9 436 L680.2 442.2 L682 439.9 L686.3 451.3 L688.6 453.6 L690.6 452.1 L693.2 456.7 L694.7 455.9 L697 430.7 L698.5 436.8 L700.8 435.3 L703.1 433.7 L705 423 L710.1 423 L712.7 433.2 L715.2 431.9 L717.1 432.9 L719.7 432.5 L721.6 427.4 L724.8 424.9 L726.7 426.8 L728.6 427.4 L730.5 434.4 L733.1 437 L736.9 432.5 L739.4 428.7 L742 431.3 L745.2 431.3 L749 435.7 L751.6 441.5 L754.1 447.8 L756 448.2 L758.6 445.9 L761.8 444 L765 446.6 L767.5 450.4 L770.1 451 L773.2 459.3 L775.8 452.3 L777.7 449.7 L779.6 449.7 L782.8 440.8 L786 443.4 L788.5 449.1 L791.7 462.5 L794.3 460 L796.8 460.6 L799.1 469.5 L801.9 467 L805.8 460 L807.7 461.2 L809.6 453.6 L812.8 445.3 L815 442.1 L817 432.5 L818.5 435.1 L821.1 440.8 L823.6 444 L825.5 454.2 L828.1 452.3 L831.3 442.1 L833.2 443.4 L836.4 437 L838.3 440.2 L840.2 445.9 L842.8 453.6 L845.3 452.9 L847.2 448.5 L849.1 439.5 L851.7 443.4 L854.2 444 L856.1 447.2 L859.3 464.4 L861.9 465.1 L863.6 465.8 L866.1 470.6 L869.7 465.8 L872.1 469.4 L875.8 463.3 L880.6 456.1 L884.2 457.3 L886.7 475.5 L890.3 462.1 L892.7 457.3 L895.9 441.5 L898.8 446.4 L901.2 435.5 L904.8 399.1 L907.3 397.9 L909.7 395.5 L913.3 395.5 L916.2 401.5 L919.4 411.2 L923 411.2 L925.5 405.2 L927.9 401.5 L930.3 373.6 L932.7 355.5 L936.4 357.9 L940 366.4 L943.6 349.4 L946.1 344.5 L948.5 349.4 L952.1 357.9 L954.5 361.5 L958.2 350.6 L961.8 357.9 L964.2 355.5 L967.9 362.7 L971 368.8 L975.2 342.1 L977.6 344.5 L980 342.1 L983.6 354.2 L987.3 356.7 L990.9 357.9 L995.3 365.2 L999.4 361.5 L1003 359.1 L1006.7 348.2 L1009.1 328.8 L1011.5 328.8 L1015.2 337.3 L1018.8 336.2 L1022.7 331.6 L1024.7 337.5 L1029 326 L1032.3 295.9 L1035.4 305.6 L1038 310.7 L1041.8 301.8 L1044.3 301.8 L1046.9 305.6 L1049.4 315.8 L1052 315.8 L1053.3 301.8 L1056.3 304.3 L1061.4 320.4 L1063.5 305.6 L1065.5 285.2 L1067.3 262.2 L1069.1 218.9 L1071.1 217.6 L1072.4 211.2 L1074.2 215 L1076.2 202.3 L1078.3 204.8 L1080.8 203.6 L1082.6 199.7 L1083.9 198.5 L1085.7 160.2 L1089 190.8 L1092 211.2 L1095.4 204.8 L1098.7 164 L1100.5 181.9 L1103 199.7 L1105.6 202.3 L1108.9 195.9 L1111.4 217.6 L1114 206.1 L1116.5 194.6 L1119.1 178.1 L1121.6 192.1 L1124.2 195.9 L1127.2 188.3 L1131.1 190.8 L1133.6 184.4 L1137 190.8 L1138.7 210.7 L1141.3 192.1 L1143.8 180.6 L1146.4 181.9 L1148.9 176.8 L1151.8 206.7 L1153.8 193 L1156.1 193 L1158.9 198.3 L1161.5 193 L1163 199.1 L1165.3 237.3 L1166.5 245.7 L1168.4 243.4 L1169.9 246.5 L1171.4 257.2 L1173 244.2 L1174.5 254.9 L1176 258 L1179.1 255.7 L1180.6 263.3 L1182.4 277.1 L1184.4 267.9 L1186 257.2 L1187.5 258 L1189 231.2 L1191.3 224.3 L1192.8 224.3 L1194.7 232 L1195.9 231.2 L1197.7 224.3 L1199.3 222.8 L1200.5 233.5 L1202 220.5 L1203.6 200.6 L1205.8 209.8 L1208.1 205.2 L1210.9 208.3 L1213 214.4 L1215 202.9 L1216.6 192.9 L1218.8 202.1 L1221.1 206.7 L1223.1 210.5 L1225 205.2 L1228.3 205.2 L1230.8 198.3 L1234.1 199.8 L1236.4 211.3 L1238 219.7 L1239.5 221.3 L1241 234.3 L1243.3 231.2 L1245.6 227.4 L1248.6 245.7" fill="none" stroke="#4db57c" stroke-width="2.6" stroke-linejoin="round" stroke-linecap="round" clip-path="url(#above)"/>
<path d="M86 525 L87.8 531 L89.6 531 L91.4 511.6 L95.8 505 L98.5 503.6 L100.3 497.9 L103.9 502.7 L106.5 494.6 L109.2 495.5 L111.9 492.9 L114.6 506.25 L119 505.4 L121.4 471.4 L124.4 467.9 L128 455.4 L129.75 430.4 L131.5 428.6 L132.8 417.5 L134.2 426.8 L136.9 425.9 L139.2 434.8 L142.25 426.4 L144.6 437.5 L147.6 431.25 L150.3 429.5 L152.4 442.9 L155.6 439.6 L157.4 440.2 L158.9 421.4 L161.9 424.1 L165.5 419.6 L168.1 429.5 L169.9 409.8 L171.7 423.2 L173.5 417.9 L177.1 417 L178.9 419.6 L180.6 417.9 L183.3 425.9 L185.1 426.8 L187.8 440.2 L190.5 442 L192.8 448.2 L195.3 440.2 L198.5 428.6 L200.3 429.5 L202.4 423.2 L204.2 428.6 L206 426.8 L209.2 436.6 L213.7 433 L218.1 428.6 L221.7 423.2 L225.3 414.6 L228 425 L230.6 427.7 L234.2 433.9 L236.9 441 L239.6 426.8 L242.25 439.3 L244.5 455.1 L248.2 450 L251.2 445.9 L254.3 451 L256.7 446.9 L260.4 432.2 L262.4 433.7 L265.5 445.9 L268.6 470.4 L273.7 479.6 L275.7 475.5 L278.8 474.5 L281.8 472.4 L283.9 478.6 L286.5 489.8 L290 483.7 L293.1 482.7 L296.7 470.4 L298.2 465.3 L301.2 467.3 L305.7 450 L307.3 455.1 L309 485.7 L310.4 483.7 L315.5 491.8 L318.2 484.7 L320.6 492.9 L323.7 489.8 L326.7 482.7 L328.8 480 L330.8 483.7 L333.5 489.8 L335.9 481.6 L339 477.6 L342 478.6 L345.1 480.6 L347.1 495.9 L350.2 508.2 L353.3 503.1 L356.3 498 L359.4 499 L362 506.1 L364.5 514.3 L366.9 511.2 L370.6 520.4 L373.7 530.6 L375.1 535.7 L380.4 552 L382.4 541.8 L383.9 548 L386.5 538.8 L390 533.7 L392 536.7 L395.1 541.8 L397.3 535 L401.1 507.4 L402.7 507.4 L405 504.3 L408 523.5 L410.3 521.9 L412.6 512.7 L414.9 517.3 L418 525 L420.3 525.8 L422.3 521.9 L423.3 528 L425.6 533 L428.4 525.8 L431 526.5 L433.3 522.7 L436.3 526.5 L441 530.4 L444 533.5 L447.1 531.1 L450.9 527.3 L454.7 523.9 L457 520.4 L459.3 518.9 L462.4 520.4 L464.7 521.9 L467.7 518.9 L469.3 515 L471.6 516.6 L473.9 511.2 L477.4 505.1 L479.2 508.9 L480.8 515 L483.8 509.7 L486.1 514.3 L490.7 515 L493 517.3 L496.1 514.3 L498.4 515.8 L500.4 533.5 L503.7 531.9 L507.6 529.6 L509.9 523.5 L513.7 527.3 L516.7 528 L518.3 527.3 L522.1 533.2 L525.9 531.1 L527.5 531.9 L530.5 529.6 L535.9 518.9 L539.7 523.5 L542.8 519.6 L545.8 515.8 L550.4 516.6 L553.1 509.5 L555.4 504.9 L556.9 491.2 L560 488.1 L561.5 481.2 L563 483.5 L566.1 477.4 L567.6 478.1 L569.9 491.2 L571.4 497.3 L573 491.9 L574.5 498.8 L577.6 501.9 L579.9 501.1 L582.9 508 L587.5 480.4 L589.8 483.5 L592.9 488.1 L595.2 491.2 L597.5 502.6 L599 501.9 L601.3 493.5 L604.4 492.7 L607.4 490.4 L610 486.6 L613.1 488.1 L616.6 482 L618.9 488.1 L621.2 484.3 L623.5 488.1 L626.6 489.6 L629.6 488.1 L634.2 479.7 L638.8 483.5 L643.4 489.6 L646.5 482 L649.5 482 L652.3 482.7 L654.9 474.3 L657.2 462.1 L660 452.1 L661.8 454.4 L663.6 448.3 L665.2 451.3 L667.2 456.7 L670.2 458.2 L672.5 453.6 L674.8 436.8 L676.3 438.3 L677.9 436 L680.2 442.2 L682 439.9 L686.3 451.3 L688.6 453.6 L690.6 452.1 L693.2 456.7 L694.7 455.9 L697 430.7 L698.5 436.8 L700.8 435.3 L703.1 433.7 L705 423 L710.1 423 L712.7 433.2 L715.2 431.9 L717.1 432.9 L719.7 432.5 L721.6 427.4 L724.8 424.9 L726.7 426.8 L728.6 427.4 L730.5 434.4 L733.1 437 L736.9 432.5 L739.4 428.7 L742 431.3 L745.2 431.3 L749 435.7 L751.6 441.5 L754.1 447.8 L756 448.2 L758.6 445.9 L761.8 444 L765 446.6 L767.5 450.4 L770.1 451 L773.2 459.3 L775.8 452.3 L777.7 449.7 L779.6 449.7 L782.8 440.8 L786 443.4 L788.5 449.1 L791.7 462.5 L794.3 460 L796.8 460.6 L799.1 469.5 L801.9 467 L805.8 460 L807.7 461.2 L809.6 453.6 L812.8 445.3 L815 442.1 L817 432.5 L818.5 435.1 L821.1 440.8 L823.6 444 L825.5 454.2 L828.1 452.3 L831.3 442.1 L833.2 443.4 L836.4 437 L838.3 440.2 L840.2 445.9 L842.8 453.6 L845.3 452.9 L847.2 448.5 L849.1 439.5 L851.7 443.4 L854.2 444 L856.1 447.2 L859.3 464.4 L861.9 465.1 L863.6 465.8 L866.1 470.6 L869.7 465.8 L872.1 469.4 L875.8 463.3 L880.6 456.1 L884.2 457.3 L886.7 475.5 L890.3 462.1 L892.7 457.3 L895.9 441.5 L898.8 446.4 L901.2 435.5 L904.8 399.1 L907.3 397.9 L909.7 395.5 L913.3 395.5 L916.2 401.5 L919.4 411.2 L923 411.2 L925.5 405.2 L927.9 401.5 L930.3 373.6 L932.7 355.5 L936.4 357.9 L940 366.4 L943.6 349.4 L946.1 344.5 L948.5 349.4 L952.1 357.9 L954.5 361.5 L958.2 350.6 L961.8 357.9 L964.2 355.5 L967.9 362.7 L971 368.8 L975.2 342.1 L977.6 344.5 L980 342.1 L983.6 354.2 L987.3 356.7 L990.9 357.9 L995.3 365.2 L999.4 361.5 L1003 359.1 L1006.7 348.2 L1009.1 328.8 L1011.5 328.8 L1015.2 337.3 L1018.8 336.2 L1022.7 331.6 L1024.7 337.5 L1029 326 L1032.3 295.9 L1035.4 305.6 L1038 310.7 L1041.8 301.8 L1044.3 301.8 L1046.9 305.6 L1049.4 315.8 L1052 315.8 L1053.3 301.8 L1056.3 304.3 L1061.4 320.4 L1063.5 305.6 L1065.5 285.2 L1067.3 262.2 L1069.1 218.9 L1071.1 217.6 L1072.4 211.2 L1074.2 215 L1076.2 202.3 L1078.3 204.8 L1080.8 203.6 L1082.6 199.7 L1083.9 198.5 L1085.7 160.2 L1089 190.8 L1092 211.2 L1095.4 204.8 L1098.7 164 L1100.5 181.9 L1103 199.7 L1105.6 202.3 L1108.9 195.9 L1111.4 217.6 L1114 206.1 L1116.5 194.6 L1119.1 178.1 L1121.6 192.1 L1124.2 195.9 L1127.2 188.3 L1131.1 190.8 L1133.6 184.4 L1137 190.8 L1138.7 210.7 L1141.3 192.1 L1143.8 180.6 L1146.4 181.9 L1148.9 176.8 L1151.8 206.7 L1153.8 193 L1156.1 193 L1158.9 198.3 L1161.5 193 L1163 199.1 L1165.3 237.3 L1166.5 245.7 L1168.4 243.4 L1169.9 246.5 L1171.4 257.2 L1173 244.2 L1174.5 254.9 L1176 258 L1179.1 255.7 L1180.6 263.3 L1182.4 277.1 L1184.4 267.9 L1186 257.2 L1187.5 258 L1189 231.2 L1191.3 224.3 L1192.8 224.3 L1194.7 232 L1195.9 231.2 L1197.7 224.3 L1199.3 222.8 L1200.5 233.5 L1202 220.5 L1203.6 200.6 L1205.8 209.8 L1208.1 205.2 L1210.9 208.3 L1213 214.4 L1215 202.9 L1216.6 192.9 L1218.8 202.1 L1221.1 206.7 L1223.1 210.5 L1225 205.2 L1228.3 205.2 L1230.8 198.3 L1234.1 199.8 L1236.4 211.3 L1238 219.7 L1239.5 221.3 L1241 234.3 L1243.3 231.2 L1245.6 227.4 L1248.6 245.7" fill="none" stroke="#d9424a" stroke-width="2.6" stroke-linejoin="round" stroke-linecap="round" clip-path="url(#below)"/>

<!-- y labels -->
<g class="t" font-size="15.6" fill="#7b808b" text-anchor="end"><text x="73.5" y="214.8">0.90</text><text x="73.5" y="287.8">0.80</text><text x="73.5" y="360.3">0.70</text><text x="73.5" y="432.8">0.60</text><text x="73.5" y="505.8">0.50</text><text x="73.5" y="578.3">0.40</text></g>
<rect x="33" y="522" width="53.5" height="23.5" fill="#8b909c"/>
<text class="t" x="73.5" y="539" font-size="15" fill="#fff" text-anchor="end">0.45</text>

<!-- x axis -->
<g stroke="#7a808b" stroke-width="1.2"><line x1="207.5" x2="207.5" y1="627.5" y2="632"/><line x1="402" x2="402" y1="627.5" y2="632"/><line x1="518" x2="518" y1="627.5" y2="632"/><line x1="634.5" x2="634.5" y1="627.5" y2="632"/><line x1="751" x2="751" y1="627.5" y2="632"/><line x1="867" x2="867" y1="627.5" y2="632"/><line x1="984" x2="984" y1="627.5" y2="632"/><line x1="1100" x2="1100" y1="627.5" y2="632"/><line x1="1216.6" x2="1216.6" y1="627.5" y2="632"/></g>
<g class="t" font-size="15.3" fill="#7b808b" text-anchor="middle"><text x="207.5" y="650.1">25</text><text x="402" y="650.1" font-weight="700" font-size="15" fill="#686e7c">Jun</text><text x="518" y="650.1">3</text><text x="634.5" y="650.1">6</text><text x="751" y="650.1">9</text><text x="867" y="650.1">12</text><text x="984" y="650.1">15</text><text x="1100" y="650.1">18</text><text x="1216.6" y="650.1">21</text></g>

<!-- navigator -->
<rect x="88" y="661" width="1160.5" height="65.5" fill="#eef0fc"/>
<path d="M88 715.04 L87.8 715.7 L89.6 715.7 L91.4 713.57 L95.8 712.85 L98.5 712.69 L100.3 712.07 L103.9 712.59 L106.5 711.71 L109.2 711.8 L111.9 711.52 L114.6 712.98 L119 712.89 L121.4 709.16 L124.4 708.78 L128 707.41 L129.75 704.66 L131.5 704.47 L132.8 703.25 L134.2 704.27 L136.9 704.17 L139.2 705.15 L142.25 704.22 L144.6 705.44 L147.6 704.76 L150.3 704.56 L152.4 706.03 L155.6 705.67 L157.4 705.74 L158.9 703.68 L161.9 703.97 L165.5 703.48 L168.1 704.56 L169.9 702.4 L171.7 703.87 L173.5 703.29 L177.1 703.19 L178.9 703.48 L180.6 703.29 L183.3 704.17 L185.1 704.27 L187.8 705.74 L190.5 705.94 L192.8 706.62 L195.3 705.74 L198.5 704.47 L200.3 704.56 L202.4 703.87 L204.2 704.47 L206 704.27 L209.2 705.34 L213.7 704.95 L218.1 704.47 L221.7 703.87 L225.3 702.93 L228 704.07 L230.6 704.37 L234.2 705.05 L236.9 705.83 L239.6 704.27 L242.25 705.64 L244.5 707.37 L248.2 706.81 L251.2 706.36 L254.3 706.92 L256.7 706.47 L260.4 704.86 L262.4 705.02 L265.5 706.36 L268.6 709.05 L273.7 710.06 L275.7 709.61 L278.8 709.5 L281.8 709.27 L283.9 709.95 L286.5 711.18 L290 710.51 L293.1 710.4 L296.7 709.05 L298.2 708.49 L301.2 708.71 L305.7 706.81 L307.3 707.37 L309 710.73 L310.4 710.51 L315.5 711.4 L318.2 710.62 L320.6 711.52 L323.7 711.18 L326.7 710.4 L328.8 710.1 L330.8 710.51 L333.5 711.18 L335.9 710.28 L339 709.84 L342 709.95 L345.1 710.17 L347.1 711.85 L350.2 713.2 L353.3 712.64 L356.3 712.08 L359.4 712.19 L362 712.97 L364.5 713.87 L366.9 713.53 L370.6 714.54 L373.7 715.65 L375.1 716.21 L380.4 718 L382.4 716.88 L383.9 717.56 L386.5 716.55 L390 715.99 L392 716.32 L395.1 716.88 L397.3 716.14 L401.1 713.11 L402.7 713.11 L405 712.77 L408 714.88 L410.3 714.7 L412.6 713.69 L414.9 714.2 L418 715.04 L420.3 715.13 L422.3 714.7 L423.3 715.37 L425.6 715.92 L428.4 715.13 L431 715.21 L433.3 714.79 L436.3 715.21 L441 715.63 L444 715.97 L447.1 715.71 L450.9 715.29 L454.7 714.92 L457 714.54 L459.3 714.37 L462.4 714.54 L464.7 714.7 L467.7 714.37 L469.3 713.94 L471.6 714.12 L473.9 713.53 L477.4 712.86 L479.2 713.27 L480.8 713.94 L483.8 713.36 L486.1 713.87 L490.7 713.94 L493 714.2 L496.1 713.87 L498.4 714.03 L500.4 715.97 L503.7 715.8 L507.6 715.55 L509.9 714.88 L513.7 715.29 L516.7 715.37 L518.3 715.29 L522.1 715.94 L525.9 715.71 L527.5 715.8 L530.5 715.55 L535.9 714.37 L539.7 714.88 L542.8 714.45 L545.8 714.03 L550.4 714.12 L553.1 713.34 L555.4 712.84 L556.9 711.33 L560 710.99 L561.5 710.24 L563 710.49 L566.1 709.82 L567.6 709.9 L569.9 711.33 L571.4 712 L573 711.41 L574.5 712.17 L577.6 712.51 L579.9 712.42 L582.9 713.18 L587.5 710.15 L589.8 710.49 L592.9 710.99 L595.2 711.33 L597.5 712.58 L599 712.51 L601.3 711.58 L604.4 711.5 L607.4 711.24 L610 710.83 L613.1 710.99 L616.6 710.32 L618.9 710.99 L621.2 710.58 L623.5 710.99 L626.6 711.16 L629.6 710.99 L634.2 710.07 L638.8 710.49 L643.4 711.16 L646.5 710.32 L649.5 710.32 L652.3 710.4 L654.9 709.48 L657.2 708.14 L660 707.04 L661.8 707.3 L663.6 706.63 L665.2 706.96 L667.2 707.55 L670.2 707.71 L672.5 707.21 L674.8 705.36 L676.3 705.53 L677.9 705.28 L680.2 705.96 L682 705.71 L686.3 706.96 L688.6 707.21 L690.6 707.04 L693.2 707.55 L694.7 707.46 L697 704.7 L698.5 705.36 L700.8 705.2 L703.1 705.02 L705 703.85 L710.1 703.85 L712.7 704.97 L715.2 704.83 L717.1 704.94 L719.7 704.89 L721.6 704.33 L724.8 704.06 L726.7 704.27 L728.6 704.33 L730.5 705.1 L733.1 705.39 L736.9 704.89 L739.4 704.48 L742 704.76 L745.2 704.76 L749 705.24 L751.6 705.88 L754.1 706.57 L756 706.62 L758.6 706.36 L761.8 706.15 L765 706.44 L767.5 706.86 L770.1 706.92 L773.2 707.83 L775.8 707.07 L777.7 706.78 L779.6 706.78 L782.8 705.8 L786 706.09 L788.5 706.71 L791.7 708.18 L794.3 707.91 L796.8 707.98 L799.1 708.95 L801.9 708.68 L805.8 707.91 L807.7 708.04 L809.6 707.21 L812.8 706.3 L815 705.95 L817 704.89 L818.5 705.18 L821.1 705.8 L823.6 706.15 L825.5 707.27 L828.1 707.07 L831.3 705.95 L833.2 706.09 L836.4 705.39 L838.3 705.74 L840.2 706.36 L842.8 707.21 L845.3 707.13 L847.2 706.65 L849.1 705.66 L851.7 706.09 L854.2 706.15 L856.1 706.51 L859.3 708.39 L861.9 708.47 L863.6 708.55 L866.1 709.07 L869.7 708.55 L872.1 708.94 L875.8 708.27 L880.6 707.48 L884.2 707.61 L886.7 709.61 L890.3 708.14 L892.7 707.61 L895.9 705.88 L898.8 706.42 L901.2 705.22 L904.8 701.23 L907.3 701.1 L909.7 700.83 L913.3 700.83 L916.2 701.49 L919.4 702.56 L923 702.56 L925.5 701.9 L927.9 701.49 L930.3 698.43 L932.7 696.45 L936.4 696.71 L940 697.64 L943.6 695.78 L946.1 695.24 L948.5 695.78 L952.1 696.71 L954.5 697.1 L958.2 695.91 L961.8 696.71 L964.2 696.45 L967.9 697.24 L971 697.91 L975.2 694.98 L977.6 695.24 L980 694.98 L983.6 696.3 L987.3 696.58 L990.9 696.71 L995.3 697.51 L999.4 697.1 L1003 696.84 L1006.7 695.65 L1009.1 693.52 L1011.5 693.52 L1015.2 694.45 L1018.8 694.33 L1022.7 693.82 L1024.7 694.47 L1029 693.21 L1032.3 689.91 L1035.4 690.97 L1038 691.53 L1041.8 690.56 L1044.3 690.56 L1046.9 690.97 L1049.4 692.09 L1052 692.09 L1053.3 690.56 L1056.3 690.83 L1061.4 692.6 L1063.5 690.97 L1065.5 688.73 L1067.3 686.21 L1069.1 681.46 L1071.1 681.32 L1072.4 680.62 L1074.2 681.03 L1076.2 679.64 L1078.3 679.91 L1080.8 679.78 L1082.6 679.36 L1083.9 679.22 L1085.7 675.02 L1089 678.38 L1092 680.62 L1095.4 679.91 L1098.7 675.44 L1100.5 677.4 L1103 679.36 L1105.6 679.64 L1108.9 678.94 L1111.4 681.32 L1114 680.06 L1116.5 678.8 L1119.1 676.99 L1121.6 678.52 L1124.2 678.94 L1127.2 678.1 L1131.1 678.38 L1133.6 677.68 L1137 678.38 L1138.7 680.56 L1141.3 678.52 L1143.8 677.26 L1146.4 677.4 L1148.9 676.84 L1151.8 680.12 L1153.8 678.62 L1156.1 678.62 L1158.9 679.2 L1161.5 678.62 L1163 679.29 L1165.3 683.48 L1166.5 684.4 L1168.4 684.15 L1169.9 684.49 L1171.4 685.66 L1173 684.24 L1174.5 685.41 L1176 685.75 L1179.1 685.5 L1180.6 686.33 L1182.4 687.85 L1184.4 686.84 L1186 685.66 L1187.5 685.75 L1189 682.81 L1191.3 682.05 L1192.8 682.05 L1194.7 682.9 L1195.9 682.81 L1197.7 682.05 L1199.3 681.89 L1200.5 683.06 L1202 681.64 L1203.6 679.45 L1205.8 680.46 L1208.1 679.96 L1210.9 680.3 L1213 680.97 L1215 679.71 L1216.6 678.61 L1218.8 679.62 L1221.1 680.12 L1223.1 680.54 L1225 679.96 L1228.3 679.96 L1230.8 679.2 L1234.1 679.37 L1236.4 680.63 L1238 681.55 L1239.5 681.72 L1241 683.15 L1248.5 683.15 L1248.5 726.5 L88 726.5 Z" fill="#dee3fa"/>
<g stroke="#d9dce9" stroke-width="1"><line x1="208.5" x2="208.5" y1="661" y2="726.5"/><line x1="403" x2="403" y1="661" y2="726.5"/><line x1="519" x2="519" y1="661" y2="726.5"/><line x1="635.5" x2="635.5" y1="661" y2="726.5"/><line x1="752" x2="752" y1="661" y2="726.5"/><line x1="868" x2="868" y1="661" y2="726.5"/><line x1="985" x2="985" y1="661" y2="726.5"/><line x1="1101" x2="1101" y1="661" y2="726.5"/><line x1="1217.6" x2="1217.6" y1="661" y2="726.5"/></g>
<g class="t" font-size="15" fill="#878d99" text-anchor="middle"><text x="208.5" y="716.5">25</text><text x="403" y="716.5" font-weight="700" font-size="14.5" fill="#7a808c">Jun</text><text x="519" y="716.5">3</text><text x="635.5" y="716.5">6</text><text x="752" y="716.5">9</text><text x="868" y="716.5">12</text><text x="985" y="716.5">15</text><text x="1101" y="716.5">18</text><text x="1217.6" y="716.5">21</text></g>
<path d="M88 715.04 L87.8 715.7 L89.6 715.7 L91.4 713.57 L95.8 712.85 L98.5 712.69 L100.3 712.07 L103.9 712.59 L106.5 711.71 L109.2 711.8 L111.9 711.52 L114.6 712.98 L119 712.89 L121.4 709.16 L124.4 708.78 L128 707.41 L129.75 704.66 L131.5 704.47 L132.8 703.25 L134.2 704.27 L136.9 704.17 L139.2 705.15 L142.25 704.22 L144.6 705.44 L147.6 704.76 L150.3 704.56 L152.4 706.03 L155.6 705.67 L157.4 705.74 L158.9 703.68 L161.9 703.97 L165.5 703.48 L168.1 704.56 L169.9 702.4 L171.7 703.87 L173.5 703.29 L177.1 703.19 L178.9 703.48 L180.6 703.29 L183.3 704.17 L185.1 704.27 L187.8 705.74 L190.5 705.94 L192.8 706.62 L195.3 705.74 L198.5 704.47 L200.3 704.56 L202.4 703.87 L204.2 704.47 L206 704.27 L209.2 705.34 L213.7 704.95 L218.1 704.47 L221.7 703.87 L225.3 702.93 L228 704.07 L230.6 704.37 L234.2 705.05 L236.9 705.83 L239.6 704.27 L242.25 705.64 L244.5 707.37 L248.2 706.81 L251.2 706.36 L254.3 706.92 L256.7 706.47 L260.4 704.86 L262.4 705.02 L265.5 706.36 L268.6 709.05 L273.7 710.06 L275.7 709.61 L278.8 709.5 L281.8 709.27 L283.9 709.95 L286.5 711.18 L290 710.51 L293.1 710.4 L296.7 709.05 L298.2 708.49 L301.2 708.71 L305.7 706.81 L307.3 707.37 L309 710.73 L310.4 710.51 L315.5 711.4 L318.2 710.62 L320.6 711.52 L323.7 711.18 L326.7 710.4 L328.8 710.1 L330.8 710.51 L333.5 711.18 L335.9 710.28 L339 709.84 L342 709.95 L345.1 710.17 L347.1 711.85 L350.2 713.2 L353.3 712.64 L356.3 712.08 L359.4 712.19 L362 712.97 L364.5 713.87 L366.9 713.53 L370.6 714.54 L373.7 715.65 L375.1 716.21 L380.4 718 L382.4 716.88 L383.9 717.56 L386.5 716.55 L390 715.99 L392 716.32 L395.1 716.88 L397.3 716.14 L401.1 713.11 L402.7 713.11 L405 712.77 L408 714.88 L410.3 714.7 L412.6 713.69 L414.9 714.2 L418 715.04 L420.3 715.13 L422.3 714.7 L423.3 715.37 L425.6 715.92 L428.4 715.13 L431 715.21 L433.3 714.79 L436.3 715.21 L441 715.63 L444 715.97 L447.1 715.71 L450.9 715.29 L454.7 714.92 L457 714.54 L459.3 714.37 L462.4 714.54 L464.7 714.7 L467.7 714.37 L469.3 713.94 L471.6 714.12 L473.9 713.53 L477.4 712.86 L479.2 713.27 L480.8 713.94 L483.8 713.36 L486.1 713.87 L490.7 713.94 L493 714.2 L496.1 713.87 L498.4 714.03 L500.4 715.97 L503.7 715.8 L507.6 715.55 L509.9 714.88 L513.7 715.29 L516.7 715.37 L518.3 715.29 L522.1 715.94 L525.9 715.71 L527.5 715.8 L530.5 715.55 L535.9 714.37 L539.7 714.88 L542.8 714.45 L545.8 714.03 L550.4 714.12 L553.1 713.34 L555.4 712.84 L556.9 711.33 L560 710.99 L561.5 710.24 L563 710.49 L566.1 709.82 L567.6 709.9 L569.9 711.33 L571.4 712 L573 711.41 L574.5 712.17 L577.6 712.51 L579.9 712.42 L582.9 713.18 L587.5 710.15 L589.8 710.49 L592.9 710.99 L595.2 711.33 L597.5 712.58 L599 712.51 L601.3 711.58 L604.4 711.5 L607.4 711.24 L610 710.83 L613.1 710.99 L616.6 710.32 L618.9 710.99 L621.2 710.58 L623.5 710.99 L626.6 711.16 L629.6 710.99 L634.2 710.07 L638.8 710.49 L643.4 711.16 L646.5 710.32 L649.5 710.32 L652.3 710.4 L654.9 709.48 L657.2 708.14 L660 707.04 L661.8 707.3 L663.6 706.63 L665.2 706.96 L667.2 707.55 L670.2 707.71 L672.5 707.21 L674.8 705.36 L676.3 705.53 L677.9 705.28 L680.2 705.96 L682 705.71 L686.3 706.96 L688.6 707.21 L690.6 707.04 L693.2 707.55 L694.7 707.46 L697 704.7 L698.5 705.36 L700.8 705.2 L703.1 705.02 L705 703.85 L710.1 703.85 L712.7 704.97 L715.2 704.83 L717.1 704.94 L719.7 704.89 L721.6 704.33 L724.8 704.06 L726.7 704.27 L728.6 704.33 L730.5 705.1 L733.1 705.39 L736.9 704.89 L739.4 704.48 L742 704.76 L745.2 704.76 L749 705.24 L751.6 705.88 L754.1 706.57 L756 706.62 L758.6 706.36 L761.8 706.15 L765 706.44 L767.5 706.86 L770.1 706.92 L773.2 707.83 L775.8 707.07 L777.7 706.78 L779.6 706.78 L782.8 705.8 L786 706.09 L788.5 706.71 L791.7 708.18 L794.3 707.91 L796.8 707.98 L799.1 708.95 L801.9 708.68 L805.8 707.91 L807.7 708.04 L809.6 707.21 L812.8 706.3 L815 705.95 L817 704.89 L818.5 705.18 L821.1 705.8 L823.6 706.15 L825.5 707.27 L828.1 707.07 L831.3 705.95 L833.2 706.09 L836.4 705.39 L838.3 705.74 L840.2 706.36 L842.8 707.21 L845.3 707.13 L847.2 706.65 L849.1 705.66 L851.7 706.09 L854.2 706.15 L856.1 706.51 L859.3 708.39 L861.9 708.47 L863.6 708.55 L866.1 709.07 L869.7 708.55 L872.1 708.94 L875.8 708.27 L880.6 707.48 L884.2 707.61 L886.7 709.61 L890.3 708.14 L892.7 707.61 L895.9 705.88 L898.8 706.42 L901.2 705.22 L904.8 701.23 L907.3 701.1 L909.7 700.83 L913.3 700.83 L916.2 701.49 L919.4 702.56 L923 702.56 L925.5 701.9 L927.9 701.49 L930.3 698.43 L932.7 696.45 L936.4 696.71 L940 697.64 L943.6 695.78 L946.1 695.24 L948.5 695.78 L952.1 696.71 L954.5 697.1 L958.2 695.91 L961.8 696.71 L964.2 696.45 L967.9 697.24 L971 697.91 L975.2 694.98 L977.6 695.24 L980 694.98 L983.6 696.3 L987.3 696.58 L990.9 696.71 L995.3 697.51 L999.4 697.1 L1003 696.84 L1006.7 695.65 L1009.1 693.52 L1011.5 693.52 L1015.2 694.45 L1018.8 694.33 L1022.7 693.82 L1024.7 694.47 L1029 693.21 L1032.3 689.91 L1035.4 690.97 L1038 691.53 L1041.8 690.56 L1044.3 690.56 L1046.9 690.97 L1049.4 692.09 L1052 692.09 L1053.3 690.56 L1056.3 690.83 L1061.4 692.6 L1063.5 690.97 L1065.5 688.73 L1067.3 686.21 L1069.1 681.46 L1071.1 681.32 L1072.4 680.62 L1074.2 681.03 L1076.2 679.64 L1078.3 679.91 L1080.8 679.78 L1082.6 679.36 L1083.9 679.22 L1085.7 675.02 L1089 678.38 L1092 680.62 L1095.4 679.91 L1098.7 675.44 L1100.5 677.4 L1103 679.36 L1105.6 679.64 L1108.9 678.94 L1111.4 681.32 L1114 680.06 L1116.5 678.8 L1119.1 676.99 L1121.6 678.52 L1124.2 678.94 L1127.2 678.1 L1131.1 678.38 L1133.6 677.68 L1137 678.38 L1138.7 680.56 L1141.3 678.52 L1143.8 677.26 L1146.4 677.4 L1148.9 676.84 L1151.8 680.12 L1153.8 678.62 L1156.1 678.62 L1158.9 679.2 L1161.5 678.62 L1163 679.29 L1165.3 683.48 L1166.5 684.4 L1168.4 684.15 L1169.9 684.49 L1171.4 685.66 L1173 684.24 L1174.5 685.41 L1176 685.75 L1179.1 685.5 L1180.6 686.33 L1182.4 687.85 L1184.4 686.84 L1186 685.66 L1187.5 685.75 L1189 682.81 L1191.3 682.05 L1192.8 682.05 L1194.7 682.9 L1195.9 682.81 L1197.7 682.05 L1199.3 681.89 L1200.5 683.06 L1202 681.64 L1203.6 679.45 L1205.8 680.46 L1208.1 679.96 L1210.9 680.3 L1213 680.97 L1215 679.71 L1216.6 678.61 L1218.8 679.62 L1221.1 680.12 L1223.1 680.54 L1225 679.96 L1228.3 679.96 L1230.8 679.2 L1234.1 679.37 L1236.4 680.63 L1238 681.55 L1239.5 681.72 L1241 683.15" fill="none" stroke="#5a74cc" stroke-width="1.6" stroke-linejoin="round"/>
<rect x="1241" y="684.8" width="14" height="19.8" rx="6" fill="#fff" filter="url(#sh)"/>
<path d="M1246.8 688.5 V696 M1249.8 688.5 V696" stroke="#b3b8c3" stroke-width="1.1"/>
<rect x="81" y="685" width="14.5" height="19.8" rx="6" fill="#fff" filter="url(#sh)"/>
<path d="M86.8 688.5 V696 M89.8 688.5 V696" stroke="#b3b8c3" stroke-width="1.1"/>

<!-- logo -->
<circle cx="51" cy="664.2" r="42" fill="#3c5fe3"/>
<rect x="18.3" y="642.5" width="65.7" height="44" rx="3" fill="#fff"/>
<rect x="31" y="647.2" width="40.5" height="34.3" fill="#3c5fe3"/>
<g fill="#3c5fe3">
<rect x="21.5" y="647" width="5.6" height="3.6" rx="0.9"/><rect x="21.5" y="657.2" width="5.6" height="3.6" rx="0.9"/>
<rect x="21.5" y="667.8" width="5.6" height="3.6" rx="0.9"/><rect x="21.5" y="677.6" width="5.6" height="3.6" rx="0.9"/>
<rect x="75.3" y="647" width="5.8" height="3.6" rx="0.9"/><rect x="75.3" y="657.2" width="5.8" height="3.6" rx="0.9"/>
<rect x="75.3" y="667.8" width="5.8" height="3.6" rx="0.9"/><rect x="75.3" y="677.6" width="5.8" height="3.6" rx="0.9"/>
</g>
<g class="t"><text x="35.6" y="658" font-size="10.2" font-weight="700" fill="#fff" textLength="24.96" lengthAdjust="spacingAndGlyphs" stroke="#fff" stroke-width="0.35">Daily</text><text x="35.56" y="667.6" font-size="10.2" font-weight="700" fill="#fff" textLength="28.5" lengthAdjust="spacingAndGlyphs" stroke="#fff" stroke-width="0.35">News</text><text x="35.59" y="677.5" font-size="10.2" font-weight="700" fill="#fff" textLength="31.65" lengthAdjust="spacingAndGlyphs" stroke="#fff" stroke-width="0.35">Recap</text></g>

<!-- bottom -->
<rect x="36.2" y="747.2" width="19.4" height="18.6" rx="3.5" fill="#3e61e8" filter="url(#sh)"/>
<path d="M40.8 757 L44.4 760.6 L51.4 752.4" fill="none" stroke="#e4e9ff" stroke-width="1.15" stroke-linecap="round" stroke-linejoin="round"/>
<g class="t"><text x="71.66" y="762.7" font-size="18.5" fill="#0d1421" textLength="39.31" lengthAdjust="spacingAndGlyphs">USD</text></g>
<rect x="151.6" y="746.8" width="19.2" height="19.2" rx="4" fill="#fff" stroke="#d3d8e2" stroke-width="1.2" filter="url(#sh)"/>
<g class="t"><text x="185.85" y="762.7" font-size="18.5" fill="#0d1421" textLength="37.55" lengthAdjust="spacingAndGlyphs">BTC</text></g>
<g class="t"><text x="939.1" y="762" font-size="19.2" fill="#5a606d" textLength="146.29" lengthAdjust="spacingAndGlyphs">Want more data?</text><text x="1090.92" y="762" font-size="19.2" fill="#4d69cf" textLength="157.19" lengthAdjust="spacingAndGlyphs">Check out our API</text></g>
</svg>
</body></html>
